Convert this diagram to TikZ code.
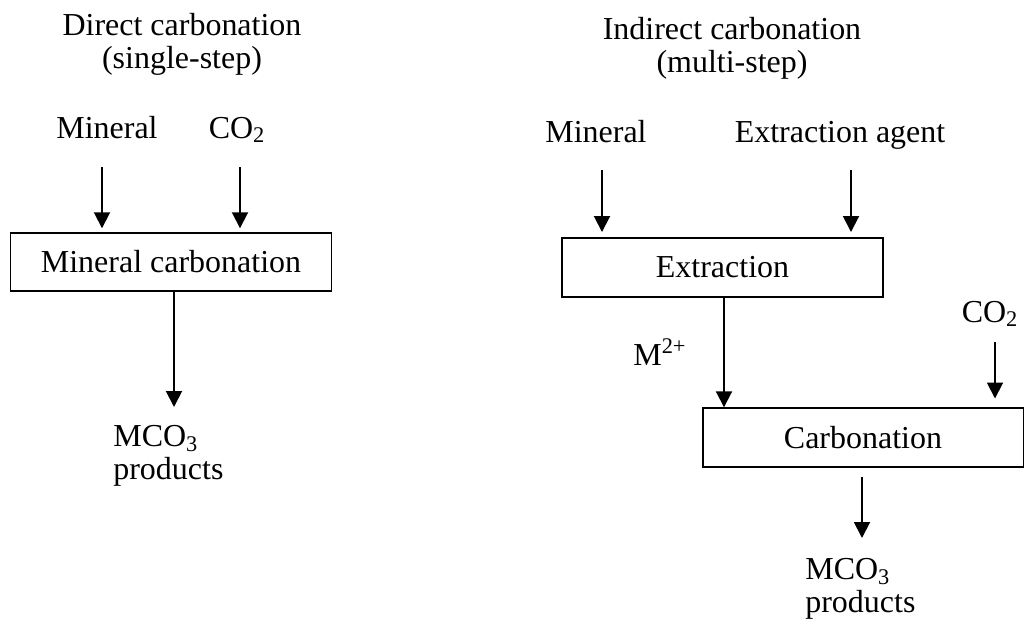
\documentclass[tikz,border=0pt]{standalone}
\usepackage{fontspec}
\setmainfont{Liberation Serif}
\usetikzlibrary{positioning, calc, arrows.meta}

\begin{document}
\begin{tikzpicture}[
  x=0.02cm, y=-0.02cm,
  font=\fontsize{18.2}{19}\selectfont,
  head/.style  = {align=center, anchor=north, inner sep=0pt},
  label/.style = {anchor=base, inner sep=0pt},
  prod/.style  = {align=left, anchor=north west, inner sep=0pt},
  box/.style   = {draw, line width=1.1pt, minimum width=6.42cm, minimum height=1.17cm, inner sep=0pt},
  arr/.style   = {-{Triangle[length=3.2mm,width=3.2mm]}, line width=1.1pt},
]
\useasboundingbox (0,0) rectangle (1025,623);

% =============================================================
% Left -- direct carbonation
% =============================================================
\node[head] (headL) at (182,13) {Direct carbonation\\(single-step)};
\node[label] (minL) at (107,138) {Mineral};
\node[label] (co2L) at (237,138) {CO\textsubscript{2}};
\node[box] (mcbox) at (171,262) {Mineral carbonation};
\node[prod] (prodL) at (113,425) {MCO\textsubscript{3}\\products};

\coordinate (minLtail) at (102,167);
\coordinate (co2Ltail) at (240,167);
\coordinate (outL)     at (174,407);
\draw[arr, shorten >=2pt] (minLtail) -- (minLtail |- mcbox.north);
\draw[arr, shorten >=2pt] (co2Ltail) -- (co2Ltail |- mcbox.north);
\draw[arr] (outL |- mcbox.south) -- (outL);

% =============================================================
% Right -- indirect carbonation
% =============================================================
\node[head] (headR) at (732,17) {Indirect carbonation\\(multi-step)};
\node[label] (minR)  at (596,142) {Mineral};
\node[label] (agent) at (840,142) {Extraction agent};
\node[box] (exbox)   at (722.5,267.5) {Extraction};
\node[label, anchor=base west] (m2) at (633,365) {M\textsuperscript{2+}};
\node[label] (co2R)  at (990,322) {CO\textsubscript{2}};
\node[box] (carbbox) at (863,437.5) {Carbonation};
\node[prod] (prodR)  at (805,558) {MCO\textsubscript{3}\\products};

\coordinate (minRtail)  at (602,170);
\coordinate (agenttail) at (851,170);
\coordinate (m2tail)    at (724,297);
\coordinate (co2Rtail)  at (995,342);
\coordinate (outRtop)   at (862,477);
\coordinate (outR)      at (862,538);
\draw[arr, shorten >=3pt] (minRtail) -- (minRtail |- exbox.north);
\draw[arr, shorten >=3pt] (agenttail) -- (agenttail |- exbox.north);
\draw[arr] (m2tail |- exbox.south) -- (m2tail |- carbbox.north);
\draw[arr, shorten >=5pt] (co2Rtail) -- (co2Rtail |- carbbox.north);
\draw[arr] (outRtop) -- (outR);

\end{tikzpicture}
\end{document}
